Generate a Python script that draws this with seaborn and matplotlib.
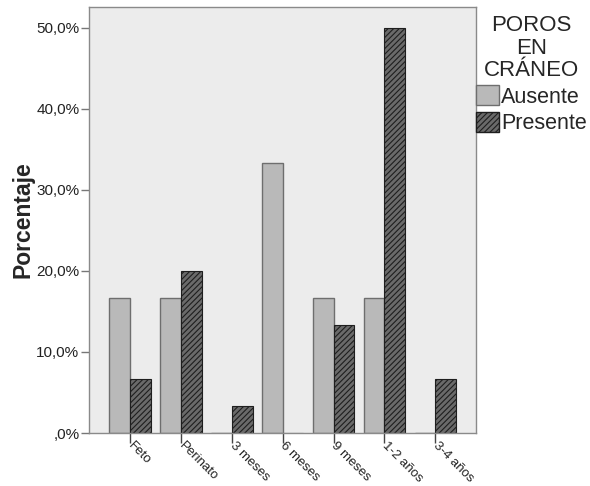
import pandas as pd
import numpy as np
import seaborn as sns
import matplotlib.pyplot as plt
from matplotlib.patches import Patch

# chart data
edades = ['Feto', 'Perinato', '3 meses', '6 meses', '9 meses', '1-2 años', '3-4 años']
ausente = [16.7, 16.7, 0.0, 33.3, 16.7, 16.7, 0.0]
presente = [6.7, 20.0, 3.3, 0.0, 13.3, 50.0, 6.7]
grupos = ['Ausente', 'Presente']
y_ticks = [0, 10, 20, 30, 40, 50]
y_labels = [',0%', '10,0%', '20,0%', '30,0%', '40,0%', '50,0%']

df = pd.DataFrame({
    'edad': edades * 2,
    'pct': ausente + presente,
    'poros': ['Ausente'] * len(edades) + ['Presente'] * len(edades),
})

sns.set_theme(style='white')
plt.rcParams['font.family'] = ['Liberation Sans', 'DejaVu Sans']
plt.rcParams['hatch.linewidth'] = 0.8

fig = plt.figure(figsize=(5.9, 4.86), dpi=100)
ax = fig.add_axes([0.151, 0.109, 0.656, 0.877])

colores = {'Ausente': '#b9b9b9', 'Presente': '#6a6a6a'}
sns.barplot(data=df, x='edad', y='pct', hue='poros', order=edades, hue_order=grupos,
            palette=colores, width=0.82, dodge=True, legend=False, ax=ax)

# style the bars like the original
for cont, g in zip(ax.containers, grupos):
    for bar in cont:
        if g == 'Ausente':
            bar.set_edgecolor('#6e6e6e')
            bar.set_linewidth(1.0)
        else:
            bar.set_edgecolor('#1e1e1e')
            bar.set_hatch('//////')
            bar.set_linewidth(0.8)

ax.set_facecolor('#ececec')
ax.set_xlim(-0.8, 6.8)
ax.set_ylim(0, 52.6)
ax.set_yticks(y_ticks)
ax.set_yticklabels(y_labels, fontsize=11, color='#222222')
ax.set_xticks(range(len(edades)))
ax.set_xticklabels(edades, rotation=-45, ha='left', va='center', rotation_mode='anchor',
                   fontsize=9.5, color='#222222')
ax.tick_params(axis='y', direction='out', length=6, width=1, color='#777777',
               left=True, pad=1)
ax.tick_params(axis='x', direction='out', length=7, width=1, color='#444444',
               bottom=True, pad=1)
ax.set_xlabel('')
ax.set_ylabel('Porcentaje', fontsize=16.5, fontweight='bold', labelpad=1)
for s in ax.spines.values():
    s.set_color('#8a8a8a')
    s.set_linewidth(1.0)

handles = [
    Patch(facecolor=colores['Ausente'], edgecolor='#6e6e6e', label='Ausente'),
    Patch(facecolor=colores['Presente'], edgecolor='#1e1e1e', hatch='//////', label='Presente'),
]
leg = ax.legend(handles=handles, title='POROS\nEN\nCRÁNEO', loc='upper left',
                bbox_to_anchor=(1.0, 0.98), frameon=False, fontsize=15.5, title_fontsize=16,
                handlelength=1.05, handleheight=1.05, handletextpad=0.12,
                borderpad=0, borderaxespad=0, labelspacing=0.2)
leg.get_title().set_multialignment('center')
leg.get_title().set_linespacing(1.08)

fig.savefig('out.png', dpi=100)
